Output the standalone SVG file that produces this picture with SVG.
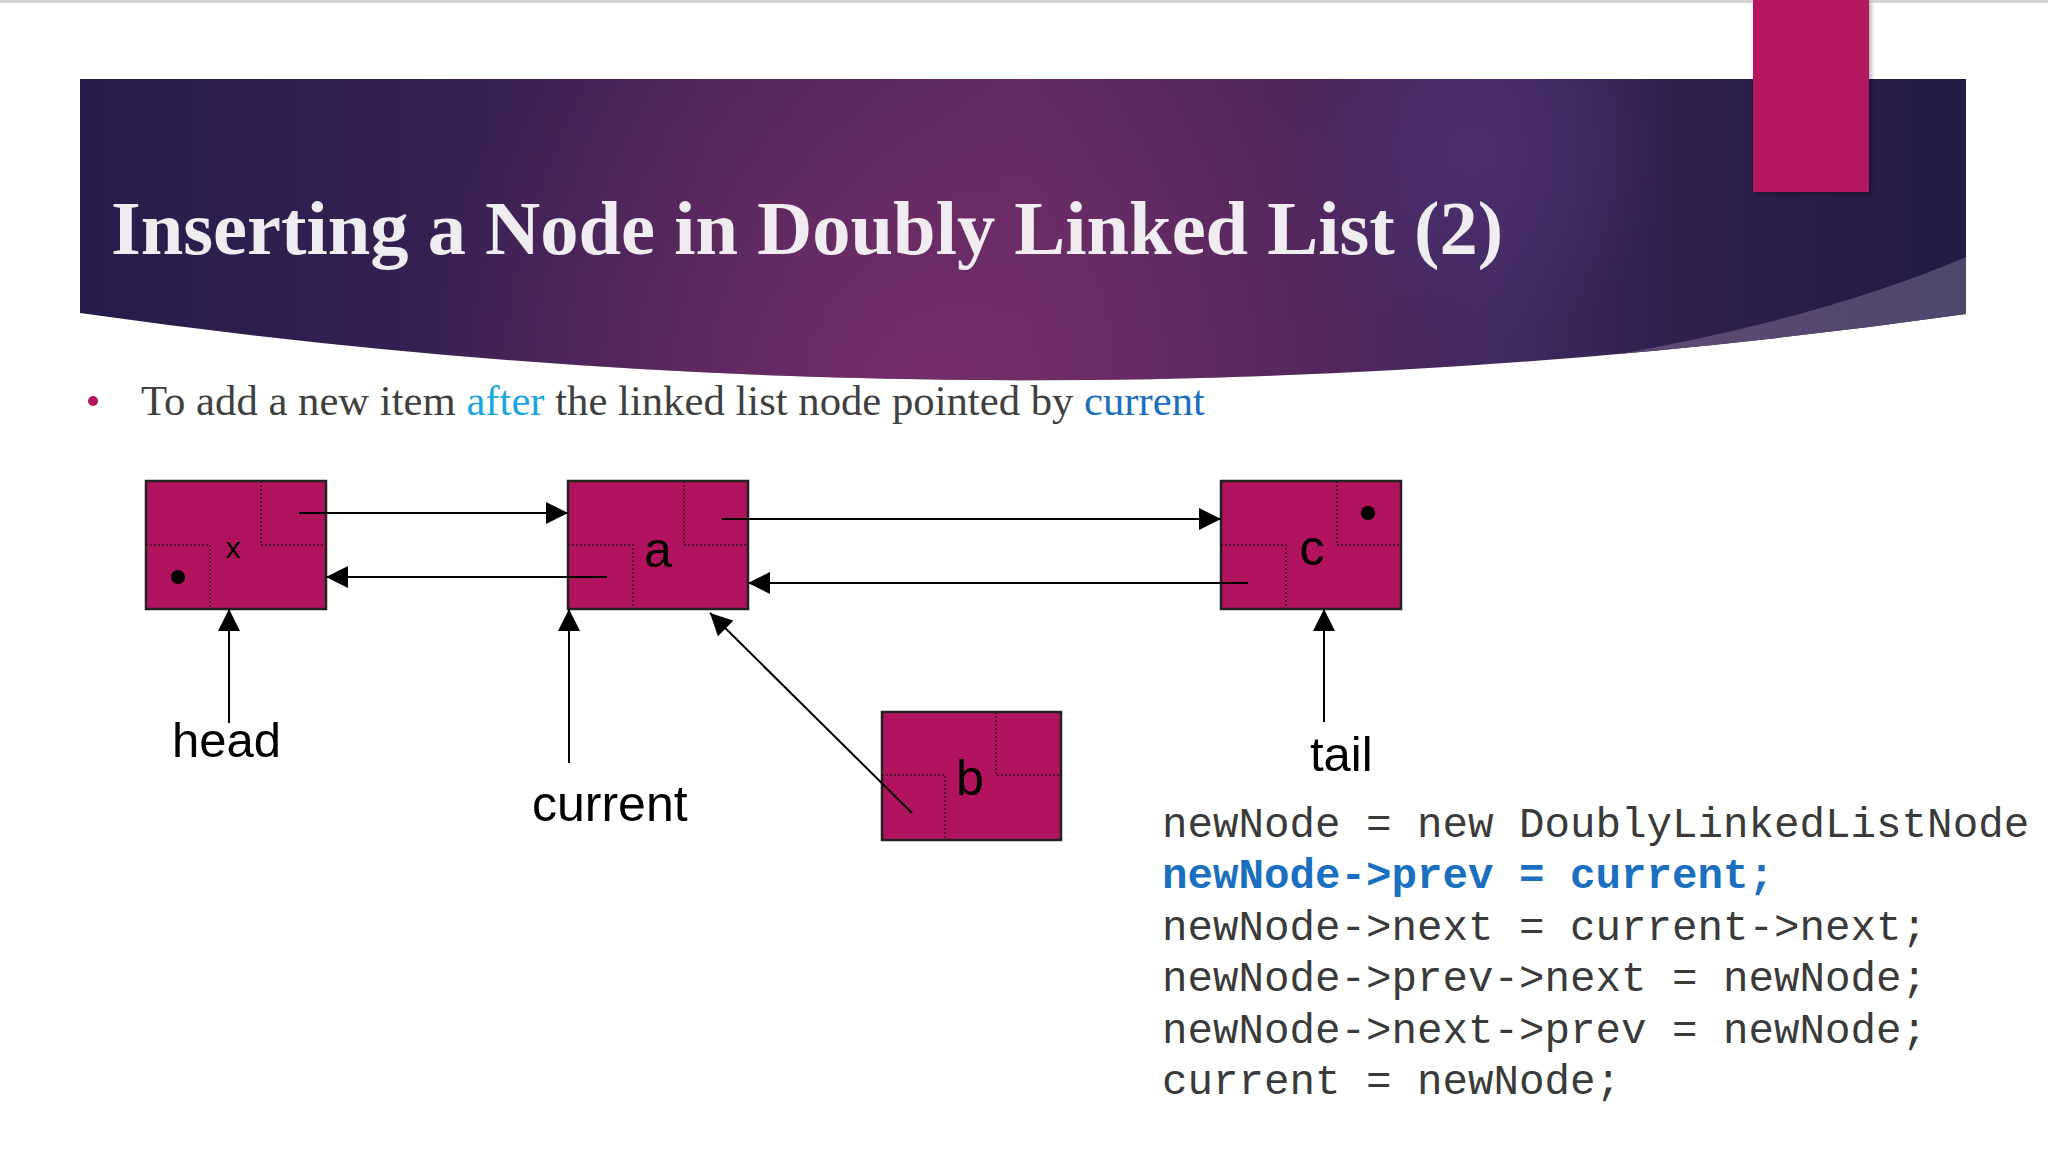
<svg xmlns="http://www.w3.org/2000/svg" width="2048" height="1152" viewBox="0 0 2048 1152">
<defs>
<linearGradient id="bandLin" x1="80" y1="0" x2="1966" y2="0" gradientUnits="userSpaceOnUse">
<stop offset="0" stop-color="#261c4a"/>
<stop offset="0.25" stop-color="#3c2254"/>
<stop offset="0.5" stop-color="#5a2a60"/>
<stop offset="0.65" stop-color="#4a2558"/>
<stop offset="0.75" stop-color="#432a62"/>
<stop offset="0.85" stop-color="#2f1f4c"/>
<stop offset="1" stop-color="#221b42"/>
</linearGradient>
<radialGradient id="bandGlow" cx="930" cy="400" r="520" gradientUnits="userSpaceOnUse">
<stop offset="0" stop-color="#7a2e6c" stop-opacity="0.85"/>
<stop offset="1" stop-color="#7a2e6c" stop-opacity="0"/>
</radialGradient>
<radialGradient id="violetSpot" cx="1470" cy="150" r="200" gradientUnits="userSpaceOnUse">
<stop offset="0" stop-color="#4d2f70" stop-opacity="0.9"/>
<stop offset="1" stop-color="#4d2f70" stop-opacity="0"/>
</radialGradient>
<linearGradient id="wedgeGrad" x1="1450" y1="0" x2="1966" y2="0" gradientUnits="userSpaceOnUse">
<stop offset="0" stop-color="#6a4a78"/>
<stop offset="1" stop-color="#4e476c"/>
</linearGradient>
<clipPath id="bandClip">
<path d="M80,79 H1966 V314 Q1023,447 80,313 Z"/>
</clipPath>
<marker id="arr" markerUnits="userSpaceOnUse" markerWidth="22" markerHeight="22" viewBox="0 0 20 20" refX="20" refY="10" orient="auto">
<path d="M0,0 L20,10 L0,20 Z" fill="#000"/>
</marker>
<filter id="sh" x="-10%" y="-10%" width="130%" height="130%">
<feDropShadow dx="2" dy="2" stdDeviation="2" flood-color="#000" flood-opacity="0.35"/>
</filter>
</defs>
<style>
.box{fill:#b2135e;stroke:#222;stroke-width:2.5}
.dot{fill:none;stroke:#3a0a22;stroke-width:1.6;stroke-dasharray:2 2}
.lnk{fill:none;stroke:#000;stroke-width:2;marker-end:url(#arr)}
.lbl{font-family:"Liberation Sans",Arial,sans-serif;fill:#000}
.code{font-family:"Liberation Mono","Courier New",monospace;font-size:42.5px;fill:#3a3a3a}
.code.hl{font-weight:bold;fill:#1a6fc0}
</style>
<rect x="0" y="0" width="2048" height="1152" fill="#ffffff"/>
<rect x="0" y="0" width="2048" height="3" fill="#d4d4d4"/>

<g id="titleBand">
<path d="M80,79 H1966 V314 Q1023,447 80,313 Z" fill="url(#bandLin)"/>
<g clip-path="url(#bandClip)">
<rect x="80" y="79" width="1886" height="370" fill="url(#bandGlow)"/>
<rect x="80" y="79" width="1886" height="370" fill="url(#violetSpot)"/>
<path d="M1966,257 Q1760,345 1420,382 L1420,460 L1966,460 Z" fill="url(#wedgeGrad)"/>
</g>
<rect x="1753" y="0" width="116" height="192" fill="#b5135f" filter="url(#sh)"/>
<text x="111" y="254" font-family="'Liberation Serif','Times New Roman',serif" font-weight="bold" font-size="76.5" fill="#efedf0">Inserting a Node in Doubly Linked List (2)</text>
</g>

<g id="bullet">
<circle cx="93" cy="401" r="5" fill="#b5135f"/>
<text x="141" y="415" font-family="'Liberation Serif','Times New Roman',serif" font-size="42.7" fill="#404040">To add a new item <tspan fill="#19a6e0">after</tspan> the linked list node pointed by <tspan fill="#1a6fc0">current</tspan></text>
</g>

<g id="node-head">
<rect class="box" x="146" y="481" width="180" height="128"/>
<path class="dot" d="M261,481 V545 H326"/>
<path class="dot" d="M146,545 H210 V609"/>
<circle cx="178" cy="577" r="7" fill="#000"/>
<text class="lbl" x="233" y="558" font-size="30" text-anchor="middle">x</text>
</g>

<g id="node-a">
<rect class="box" x="568" y="481" width="180" height="128"/>
<path class="dot" d="M684,481 V545 H748"/>
<path class="dot" d="M568,545 H633 V609"/>
<text class="lbl" x="658" y="567" font-size="50" text-anchor="middle">a</text>
</g>

<g id="node-c">
<rect class="box" x="1221" y="481" width="180" height="128"/>
<path class="dot" d="M1337,481 V545 H1401"/>
<path class="dot" d="M1221,545 H1286 V609"/>
<circle cx="1368" cy="513" r="7" fill="#000"/>
<text class="lbl" x="1312" y="565" font-size="50" text-anchor="middle">c</text>
</g>

<g id="node-b">
<rect class="box" x="882" y="712" width="179" height="128"/>
<path class="dot" d="M996,712 V775 H1061"/>
<path class="dot" d="M882,775 H945 V840"/>
<text class="lbl" x="970" y="795" font-size="50" text-anchor="middle">b</text>
</g>

<g id="connectors">
<path class="lnk" d="M299,513 L568,513"/>
<path class="lnk" d="M607,577 L326,577"/>
<path class="lnk" d="M722,519 L1221,519"/>
<path class="lnk" d="M1248,583 L748,583"/>
<path class="lnk" d="M229,723 L229,609"/>
<path class="lnk" d="M569,763 L569,609"/>
<path class="lnk" d="M1324,722 L1324,609"/>
<path class="lnk" d="M912,813 L710,613"/>
</g>

<g id="label-head"><text class="lbl" x="172" y="757" font-size="49">head</text></g>
<g id="label-current"><text class="lbl" x="532" y="821" font-size="50">current</text></g>
<g id="label-tail"><text class="lbl" x="1310" y="771" font-size="49">tail</text></g>

<g id="code">
<text class="code" x="1162" y="837">newNode = new DoublyLinkedListNode</text>
<text class="code hl" x="1162" y="888">newNode-&gt;prev = current;</text>
<text class="code" x="1162" y="940">newNode-&gt;next = current-&gt;next;</text>
<text class="code" x="1162" y="991">newNode-&gt;prev-&gt;next = newNode;</text>
<text class="code" x="1162" y="1043">newNode-&gt;next-&gt;prev = newNode;</text>
<text class="code" x="1162" y="1094">current = newNode;</text>
</g>
</svg>
